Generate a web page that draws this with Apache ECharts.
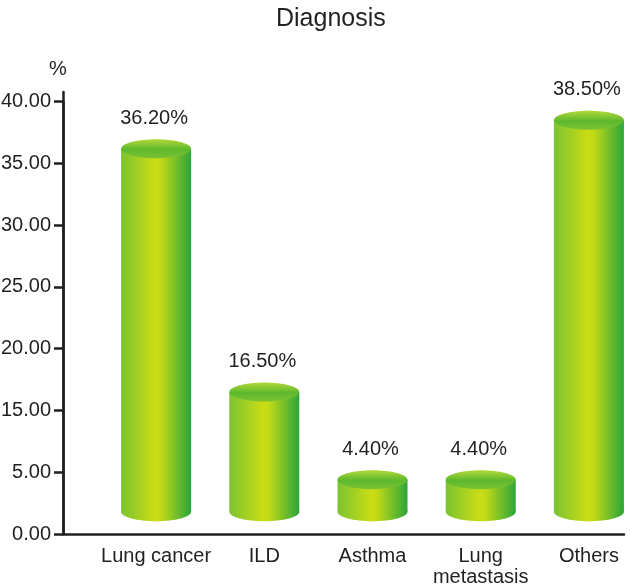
<!DOCTYPE html>
<html>
<head>
<meta charset="utf-8">
<script src="https://cdn.jsdelivr.net/npm/echarts@6/dist/echarts.min.js"></script>
<style>
html,body{margin:0;padding:0;background:#fff;}
#chart{width:630px;height:587px;}
</style>
</head>
<body>
<div id="chart"></div>
<script>
// ---- data ----
const titleText = 'Diagnosis';
const categories = ['Lung cancer', 'ILD', 'Asthma', 'Lung\nmetastasis', 'Others'];
const percentValues = [36.2, 16.5, 4.4, 4.4, 38.5];
// tick labels exactly as printed on the reference axis (note: no "10.00")
const tickLabels = ['0.00', '5.00', '15.00', '20.00', '25.00', '30.00', '35.00', '40.00'];
const unitLabel = '%';

// the printed axis jumps from 5 to 15 in one step: map a value onto that axis
function toAxis(v) {
  if (v <= 5) return v;
  if (v <= 15) return 5 + (v - 5) / 2;
  return v - 5;
}

const FONT = "'Liberation Sans', Arial, Helvetica, sans-serif";
const TXT = '#231f20';
const BASE = 1.8; // cylinders float slightly above the axis line

const bodyGrad = () => new echarts.graphic.LinearGradient(0, 0, 1, 0, [
  {offset: 0, color: '#7bc332'},
  {offset: 0.48, color: '#cadc14'},
  {offset: 0.56, color: '#c4da16'},
  {offset: 1, color: '#2ba53a'}
]);
const topGrad = () => new echarts.graphic.LinearGradient(0, 0, 0, 1, [
  {offset: 0, color: '#b4d83a'},
  {offset: 0.55, color: '#5cb82d'},
  {offset: 1, color: '#7cc332'}
]);

const chart = echarts.init(document.getElementById('chart'), null, {renderer: 'canvas'});

const yMaxTop = 35 + 9.7 / 12.352;

chart.setOption({
  animation: false,
  backgroundColor: '#fff',
  title: {
    text: titleText,
    left: 271,
    top: 2,
    textStyle: {fontFamily: FONT, fontSize: 25, fontWeight: 'normal', color: TXT}
  },
  grid: [
    {left: 102, width: 541, top: 92, bottom: 53, outerBoundsMode: 'none', containLabel: false},
    {left: 63, right: 6, top: 101.7, bottom: 53, outerBoundsMode: 'none', containLabel: false}
  ],
  xAxis: [
    {
      gridIndex: 0, type: 'category', data: categories,
      axisLine: {show: false}, axisTick: {show: false},
      axisLabel: {margin: 12, fontFamily: FONT, fontSize: 20, color: TXT, lineHeight: 21, interval: 0}
    },
    {
      gridIndex: 1, type: 'value', min: 0, max: 1,
      axisLine: {show: true, lineStyle: {color: TXT, width: 2.5}},
      axisTick: {show: false}, axisLabel: {show: false}, splitLine: {show: false}
    }
  ],
  yAxis: [
    {
      gridIndex: 0, type: 'value', min: 0, max: yMaxTop, offset: 39,
      axisLine: {show: true, lineStyle: {color: TXT, width: 2.5}},
      axisTick: {show: false}, axisLabel: {show: false}, splitLine: {show: false}
    },
    {
      gridIndex: 1, type: 'value', min: 0, max: 35, interval: 5,
      name: unitLabel, nameLocation: 'end', nameGap: 22,
      nameTextStyle: {fontFamily: FONT, fontSize: 20, color: TXT, padding: [0, 10, 0, 0]},
      axisLine: {show: true, lineStyle: {color: TXT, width: 2.5}},
      axisTick: {show: true, length: 9, lineStyle: {color: TXT, width: 2.5}},
      axisLabel: {
        margin: 12, fontFamily: FONT, fontSize: 20, color: TXT,
        formatter: v => tickLabels[Math.round(v / 5)] || ''
      },
      splitLine: {show: false}
    }
  ],
  series: [{
    type: 'custom',
    xAxisIndex: 0, yAxisIndex: 0,
    data: categories.map((c, i) => [i, toAxis(percentValues[i]), percentValues[i]]),
    renderItem: function (params, api) {
      const xi = api.value(0);
      const top = api.coord([xi, api.value(1)]);
      const bot = api.coord([xi, BASE]);
      const w = api.size([1, 0])[0] * 0.647;
      const rx = w / 2, ry = 9.5;
      const cx = top[0];
      return {
        type: 'group',
        children: [
          {type: 'ellipse', shape: {cx: cx, cy: bot[1], rx: rx, ry: ry}, style: {fill: bodyGrad()}},
          {type: 'rect', shape: {x: cx - rx, y: top[1], width: w, height: bot[1] - top[1]}, style: {fill: bodyGrad()}},
          {type: 'ellipse', shape: {cx: cx, cy: top[1], rx: rx, ry: ry}, style: {fill: topGrad()}},
          {type: 'text', style: {
            text: api.value(2).toFixed(2) + '%',
            x: cx - 2, y: top[1] - ry - 21,
            align: 'center', verticalAlign: 'middle',
            fontFamily: FONT, fontSize: 20, fill: TXT
          }}
        ]
      };
    }
  }]
});
</script>
</body>
</html>
